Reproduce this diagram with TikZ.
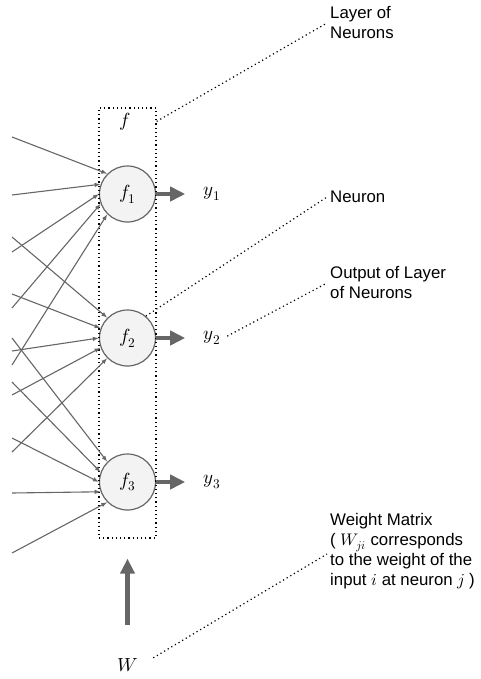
\documentclass[tikz,border=0pt]{standalone}
\usepackage{unicode-math}
\setmathfont{Latin Modern Math}
\newfontfamily\annofont{Liberation Sans}
\DeclareMathSizes{19}{19}{13.3}{9.5}
\DeclareMathSizes{16.8}{16.8}{11.8}{8.4}
\usetikzlibrary{arrows.meta,calc}
\definecolor{wire}{HTML}{666666}
\definecolor{cellfill}{HTML}{F3F3F3}

\begin{document}
\begin{tikzpicture}[x=1pt,y=-1pt,
	neuron/.style={circle,draw=wire,fill=cellfill,line width=1.2pt,minimum size=56pt,inner sep=0pt,font=\fontsize{19}{19}\selectfont},
	mathlabel/.style={font=\fontsize{19}{19}\selectfont},
	note/.style={anchor=west,align=left,inner sep=3pt,font=\annofont\fontsize{16.8}{20}\selectfont},
	inarrow/.style={wire,line width=1.1pt,-{Latex[length=6pt,width=4.5pt]}},
	outarrow/.style={wire,line width=4.5pt,-{Triangle[length=15pt,width=14pt]}},
	leader/.style={line width=1.2pt,dash pattern=on 1.2pt off 3pt}]
	\useasboundingbox (0,0) rectangle (481,679);
	% neurons of the layer
	\node[neuron] (n1) at (127.5,194) {$f_1$};
	\node[neuron] (n2) at (127.5,338) {$f_2$};
	\node[neuron] (n3) at (127.5,482) {$f_3$};
	\node[draw,leader,minimum width=57pt,minimum height=430pt] (layer) at (127.5,323) {};
	\node[mathlabel] (f) at (125,122) {$f$};
	% outputs
	\node[mathlabel] (y1) at (212,194) {$y_1$};
	\node[mathlabel] (y2) at (212,338) {$y_2$};
	\node[mathlabel] (y3) at (212,482) {$y_3$};
	\node[mathlabel] (W) at (127.5,665) {$W$};
	% inputs
	\coordinate (a1) at (12,137);
	\coordinate (a2) at (12,195);
	\coordinate (a3) at (12,252);
	\coordinate (a4) at (12,308);
	\coordinate (a5) at (12,365);
	\coordinate (b1) at (12,237);
	\coordinate (b2) at (12,294);
	\coordinate (b3) at (12,351);
	\coordinate (b4) at (12,395);
	\coordinate (b5) at (12,452);
	\coordinate (c1) at (12,338);
	\coordinate (c2) at (12,382);
	\coordinate (c3) at (12,438);
	\coordinate (c4) at (12,493);
	\coordinate (c5) at (12,553);
	\draw[inarrow] (a1) -- (n1.135);
	\draw[inarrow] (a2) -- (n1.160);
	\draw[inarrow] (a3) -- (n1.180);
	\draw[inarrow] (a4) -- (n1.200);
	\draw[inarrow] (a5) -- (n1.225);
	\draw[inarrow] (b1) -- (n2.135);
	\draw[inarrow] (b2) -- (n2.160);
	\draw[inarrow] (b3) -- (n2.180);
	\draw[inarrow] (b4) -- (n2.200);
	\draw[inarrow] (b5) -- (n2.225);
	\draw[inarrow] (c1) -- (n3.135);
	\draw[inarrow] (c2) -- (n3.160);
	\draw[inarrow] (c3) -- (n3.180);
	\draw[inarrow] (c4) -- (n3.200);
	\draw[inarrow] (c5) -- (n3.225);
	\draw[outarrow,shorten >=15pt] (n1) -- (y1);
	\draw[outarrow,shorten >=15pt] (n2) -- (y2);
	\draw[outarrow,shorten >=15pt] (n3) -- (y3);
	\draw[outarrow,shorten <=30pt,shorten >=20pt] (W) -- (layer);
	% annotations
	\node[note] (layernote) at (327,23) {Layer of\\Neurons};
	\node[note] (neuronnote) at (327,197) {Neuron};
	\node[note] (outputnote) at (327,283) {Output of Layer\\of Neurons};
	\node[note] (weightnote) at (327,551) {Weight Matrix\\( $W_{ji}$ corresponds\\to the weight of the\\input $i$ at neuron $j$ )};
	\draw[leader] ($(layer.north east)+(0,14)$) -- (layernote.west);
	\draw[leader] (n2.50) -- (neuronnote.west);
	\draw[leader,shorten <=4pt] (y2.east) -- (outputnote.west);
	\draw[leader,shorten <=14pt] (W.east) -- ($(weightnote.west)+(0,3)$);
\end{tikzpicture}
\end{document}
